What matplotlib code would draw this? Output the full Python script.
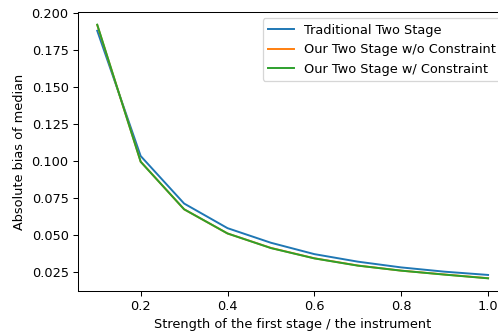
import numpy as np
import matplotlib.pyplot as plt

strength = [0.1, 0.2, 0.3, 0.4, 0.5, 0.6, 0.7, 0.8, 0.9, 1.0]
bias_traditional = [0.1883, 0.1034, 0.0712, 0.0545, 0.0446, 0.0369, 0.0318, 0.0279, 0.0250, 0.0228]
bias_ours_no_con = [0.1922, 0.0996, 0.0673, 0.0509, 0.0411, 0.0341, 0.0292, 0.0257, 0.0231, 0.0206]
bias_ours_con = [0.1924, 0.0995, 0.0673, 0.0509, 0.0410, 0.0340, 0.0291, 0.0257, 0.0230, 0.0205]

DPI = 93
fig = plt.figure(figsize=(499 / DPI, 335 / DPI), dpi=DPI)
# the original was cut off on the right, so the axes run past the figure edge
ax = fig.add_axes([0.1557, 0.1313, 0.8616, 0.8329])

ax.plot(strength, bias_traditional, label='Traditional Two Stage')
ax.plot(strength, bias_ours_no_con, label='Our Two Stage w/o Constraint')
ax.plot(strength, bias_ours_con, label='Our Two Stage w/ Constraint')

ax.set_xlabel('Strength of the first stage / the instrument')
ax.set_ylabel('Absolute bias of median')
ax.legend(loc='upper right')

fig.savefig('out.png', dpi=DPI)
